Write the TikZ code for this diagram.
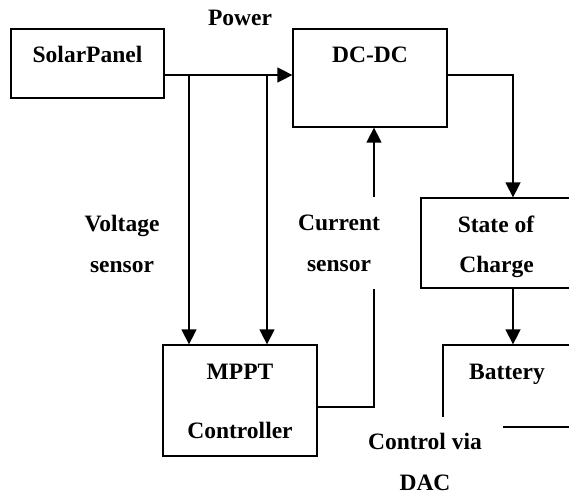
\documentclass[tikz,border=0pt]{standalone}
\usepackage{fontspec}
\setmainfont{Liberation Serif}
\usetikzlibrary{arrows.meta}
\begin{document}
\begin{tikzpicture}[x=1pt,y=-1pt,
  box/.style={draw, line width=1.3pt, inner sep=0pt, rectangle},
  txt/.style={font=\fontsize{23.5}{41}\selectfont\bfseries, inner sep=0pt, anchor=base},
  lbl/.style={font=\fontsize{23.5}{41}\selectfont\bfseries, align=center, fill=white, anchor=north},
  conn/.style={line width=1.5pt},
  arr/.style={conn, -{Triangle[length=15pt,width=15pt]}}]
\useasboundingbox (0,0) rectangle (569,495);
\clip (0,0) rectangle (569,495);
% boxes
\node[box, minimum width=153pt, minimum height=69pt] (solar) at (87.5,63.5) {};
\node[box, minimum width=154pt, minimum height=98pt] (dcdc) at (370,78) {};
\node[box, minimum width=154pt, minimum height=111pt] (mppt) at (240,400.5) {};
\node[box, minimum width=184pt, minimum height=90pt] (soc) at (513,243) {};
\node[box, minimum width=140pt, minimum height=82pt] (batt) at (513,386) {};
% box texts
\node[txt] (tsolar) at (87.5,63) {SolarPanel};
\node[txt] (tdc) at (370,63) {DC-DC};
\node[txt] (tmppt1) at (240,379) {MPPT};
\node[txt] (tmppt2) at (240,438) {Controller};
\node[txt] (tsoc1) at (496,232) {State of};
\node[txt] (tsoc2) at (496.5,272) {Charge};
\node[txt] (tbatt) at (507,379) {Battery};
\node[txt] (tpower) at (240,26) {Power};
% coordinates
\coordinate (pw) at (0,75);
\coordinate (t1) at (189,75);
\coordinate (t2) at (267,75);
\coordinate (cs) at (374,0);
% connectors
\draw[arr] (solar.east |- pw) -- (dcdc.west |- pw);
\draw[arr] (t1) -- (t1 |- mppt.north);
\draw[arr] (t2) -- (t2 |- mppt.north);
\draw[arr] ([yshift=-6.5pt]mppt.east) -| (cs |- dcdc.south);
\draw[arr] (dcdc.east |- pw) -| (soc.north);
\draw[arr] (soc.south) -- (batt.north);
% labels
\node[lbl, inner xsep=3pt, inner ysep=17pt] (volt) at (122,198) {Voltage\\sensor};
\node[lbl, inner xsep=8pt, inner ysep=17.5pt] (curr) at (339,197) {Current\\sensor};
\node[lbl, inner xsep=21pt, inner ysep=16pt] (dac) at (425,417) {Control via\\DAC};
\end{tikzpicture}
\end{document}
